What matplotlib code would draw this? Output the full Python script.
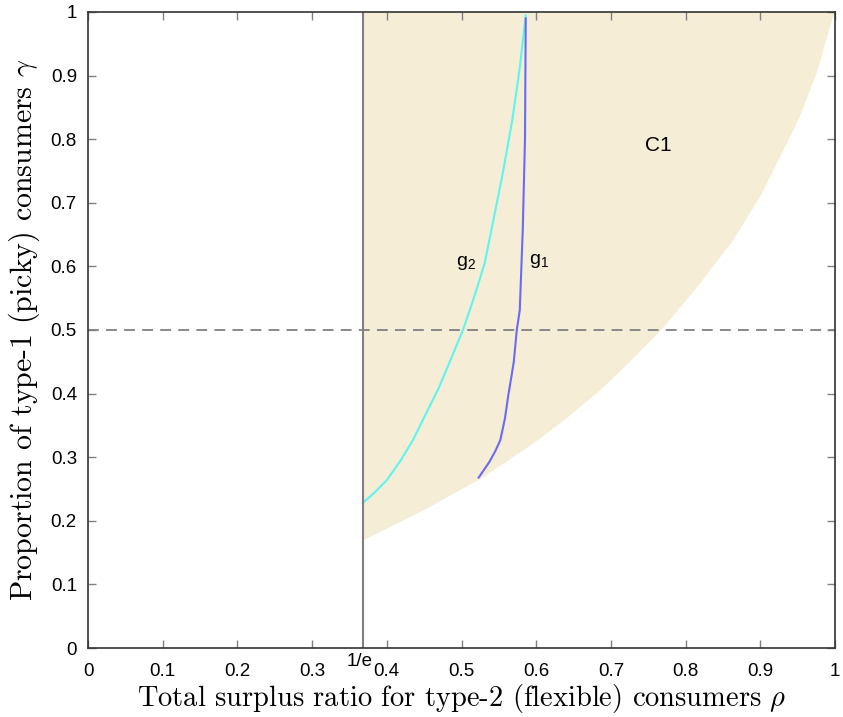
import numpy as np
import matplotlib.pyplot as plt

# lower boundary of region C1 (upper boundary is gamma = 1)
c1_rho = [1 / np.e, 0.45, 0.525, 0.56, 0.601, 0.64, 0.685, 0.725, 0.766,
          0.795, 0.822, 0.863, 0.90, 0.95, 0.975, 0.997, 1.0]
c1_gam = [0.170, 0.218, 0.267, 0.294, 0.327, 0.362, 0.406, 0.451, 0.500,
          0.540, 0.579, 0.642, 0.712, 0.830, 0.905, 0.995, 1.0]

# curve g2
g2_rho = [1 / np.e, 0.385, 0.400, 0.418, 0.435, 0.47, 0.502, 0.511, 0.52,
          0.531, 0.540, 0.555, 0.568, 0.578, 0.586]
g2_gam = [0.228, 0.246, 0.264, 0.294, 0.327, 0.41, 0.500, 0.531, 0.563,
          0.605, 0.657, 0.745, 0.830, 0.912, 0.995]

# curve g1
g1_rho = [0.523, 0.537, 0.545, 0.552, 0.558, 0.563, 0.567, 0.570, 0.574,
          0.578, 0.582, 0.585, 0.586]
g1_gam = [0.268, 0.292, 0.309, 0.327, 0.360, 0.40, 0.428, 0.45, 0.500,
          0.531, 0.657, 0.800, 0.99]

xticks = np.round(np.arange(0, 1.01, 0.1), 1)
yticks = np.round(np.arange(0, 1.01, 0.1), 1)

plt.rcParams['font.family'] = ['Liberation Sans', 'DejaVu Sans']
plt.rcParams['mathtext.fontset'] = 'cm'

fig = plt.figure(figsize=(8.43, 7.17), dpi=100)
ax = fig.add_axes([0.1044, 0.0962, 0.8861, 0.8871])

rr = np.linspace(1 / np.e, 1, 400)
lower = np.interp(rr, c1_rho, c1_gam)
ax.fill_between(rr, lower, 1, color='#f5edd5', lw=0)

ax.plot(g2_rho, g2_gam, color='#5ff5ee', lw=1.5)
ax.plot(g1_rho, g1_gam, color='#6a6af5', lw=1.5)

ax.axvline(1 / np.e, color='#7f7f7f', lw=1.5)
ax.axhline(0.5, color='#808080', lw=1.3, ls=(0, (6, 4)))

ax.text(0.507, 0.605, r'g$_\mathregular{2}$', fontsize=14, ha='center', va='center')
ax.text(0.604, 0.608, r'g$_\mathregular{1}$', fontsize=14, ha='center', va='center')
ax.text(0.763, 0.79, 'C1', fontsize=15, ha='center', va='center')
ax.text(1 / np.e - 0.004, -0.008, '1/e', fontsize=13.5, ha='center', va='top')

ax.set_xlim(0, 1)
ax.set_ylim(0, 1)
ax.set_xticks(xticks)
ax.set_yticks(yticks)
ax.set_xticklabels([f'{t:g}' for t in xticks])
ax.set_yticklabels([f'{t:g}' for t in yticks])
ax.tick_params(direction='in', length=6, width=1, color='#808080',
               labelsize=13.5, top=True, right=True)
ax.tick_params(axis='x', pad=11)
ax.tick_params(axis='y', pad=8)
for s in ax.spines.values():
    s.set_color('#333333')
    s.set_linewidth(1.2)

ax.set_xlabel(r'Total surplus ratio for type-2 (flexible) consumers $\rho$',
              fontfamily='cmr10', fontsize=20.5, labelpad=1)
ax.set_ylabel(r'Proportion of type-1 (picky) consumers $\gamma$',
              fontfamily='cmr10', fontsize=21.5, labelpad=6)

fig.savefig('out.png', dpi=100)
